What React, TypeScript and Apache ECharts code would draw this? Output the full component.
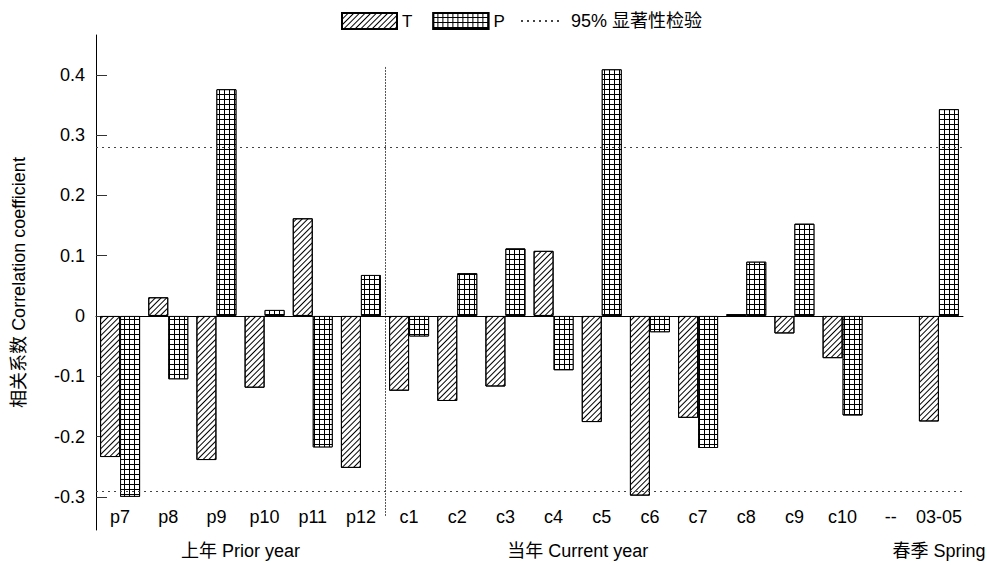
import React, { useEffect, useRef } from "react";
import * as echarts from "echarts";

// Months of the prior year (p), current year (c) and the spring season
const categories = [
  "p7", "p8", "p9", "p10", "p11", "p12",
  "c1", "c2", "c3", "c4", "c5", "c6", "c7", "c8", "c9", "c10",
  "--", "03-05",
];

// Correlation with temperature (T) and precipitation (P)
const tValues: (number | null)[] = [
  -0.234, 0.031, -0.239, -0.119, 0.162, -0.252,
  -0.124, -0.141, -0.117, 0.108, -0.176, -0.298, -0.169, 0.003, -0.029, -0.07,
  null, -0.175,
];
const pValues: (number | null)[] = [
  -0.3, -0.105, 0.376, 0.01, -0.218, 0.068,
  -0.034, 0.071, 0.112, -0.09, 0.409, -0.027, -0.219, 0.09, 0.153, -0.165,
  null, 0.343,
];

// 95% significance thresholds
const sigUpper = 0.283;
const sigLower = -0.29;

const yTicks = [-0.3, -0.2, -0.1, 0, 0.1, 0.2, 0.3, 0.4];
const yMin = -0.355;
const yMax = 0.466;

const groupLabels = ["上年 Prior year", "当年 Current year", "春季 Spring"];

const FONT = "'Liberation Sans', Arial, 'Noto Sans CJK SC', sans-serif";

export default function App() {
  const ref = useRef<HTMLDivElement>(null);

  useEffect(() => {
    if (!ref.current) return;
    const chart = echarts.init(ref.current, null, { renderer: "svg" });

    // diagonal hatching for T, square mesh for P
    const hatch = {
      symbol: "rect",
      symbolSize: 1,
      dashArrayX: [1, 0],
      dashArrayY: [1, 3],
      rotation: -Math.PI / 4,
      color: "#000",
    };
    const mesh = {
      symbol: "rect",
      symbolSize: 1,
      dashArrayX: [4, 1],
      dashArrayY: [4, 1],
      color: "#fff",
    };

    chart.setOption({
      animation: false,
      backgroundColor: "#fff",
      textStyle: { fontFamily: FONT, color: "#000" },
      legend: [
        {
          data: ["T", "P"],
          icon: "rect",
          left: 336,
          top: 7,
          itemWidth: 55,
          itemHeight: 16,
          itemGap: 20,
          textStyle: { fontFamily: FONT, fontSize: 17, color: "#000" },
          selectedMode: false,
        },
        {
          data: ["95% 显著性检验"],
          left: 515,
          top: 7,
          itemWidth: 38,
          itemHeight: 16,
          itemStyle: {
            color: "transparent",
            borderColor: "transparent",
            borderWidth: 0,
          },
          textStyle: {
            fontFamily: FONT,
            fontSize: 18,
            color: "#000",
            padding: [0, 0, 0, 7],
          },
          selectedMode: false,
        },
      ],
      grid: {
        left: 96,
        right: 26,
        top: 35,
        bottom: 37,
        containLabel: false,
        outerBoundsMode: "none",
      },
      xAxis: [
        {
          type: "category",
          data: categories,
          position: "top",
          axisLine: { onZero: true, lineStyle: { color: "#000", width: 1 } },
          axisTick: { inside: true, length: 4, lineStyle: { color: "#555" } },
          axisLabel: { show: false },
          splitLine: { show: false },
        },
        {
          type: "category",
          data: categories,
          position: "bottom",
          axisLine: { show: false },
          axisTick: { show: false },
          axisLabel: {
            margin: -22,
            fontSize: 18,
            color: "#000",
            fontFamily: FONT,
            interval: 0,
          },
        },
      ],
      yAxis: {
        type: "value",
        min: yMin,
        max: yMax,
        name: "相关系数 Correlation coefficient",
        nameLocation: "middle",
        nameRotate: 90,
        nameGap: 68,
        nameTextStyle: { fontSize: 18, color: "#000", fontFamily: FONT },
        axisLine: { show: true, lineStyle: { color: "#000", width: 1 } },
        axisTick: {
          show: true,
          inside: true,
          length: 11,
          customValues: yTicks,
          lineStyle: { color: "#333" },
        },
        axisLabel: {
          customValues: yTicks,
          margin: 11,
          fontSize: 18,
          color: "#000",
          fontFamily: FONT,
          formatter: (v: number) => String(Math.round(v * 10) / 10),
        },
        splitLine: { show: false },
      },
      series: [
        {
          name: "T",
          type: "bar",
          xAxisIndex: 0,
          data: tValues,
          barWidth: 20,
          barGap: "0%",
          clip: false,
          itemStyle: {
            color: "#fff",
            borderColor: "#000",
            borderWidth: 1,
            decal: hatch,
          },
        },
        {
          name: "P",
          type: "bar",
          xAxisIndex: 0,
          data: pValues,
          barWidth: 20,
          barGap: "0%",
          clip: false,
          itemStyle: {
            color: "#000",
            borderColor: "#000",
            borderWidth: 1,
            decal: mesh,
          },
        },
        {
          name: "95% 显著性检验",
          type: "line",
          xAxisIndex: 0,
          data: [],
          symbol: "none",
          itemStyle: { color: "#444" },
          lineStyle: { type: [2, 4], color: "#444", width: 1 },
          markLine: {
            silent: true,
            symbol: ["none", "none"],
            label: { show: false },
            lineStyle: { type: [2, 4], color: "#444", width: 1 },
            data: [{ yAxis: sigUpper }, { yAxis: sigLower }],
          },
        },
      ],
    });

    // Separator between prior and current year, and the group captions
    const px = (i: number) => chart.convertToPixel({ xAxisIndex: 0 }, i) as number;
    const py = (v: number) => chart.convertToPixel({ yAxisIndex: 0 }, v) as number;
    const sepX = Math.round((px(5) + px(6)) / 2) + 0.5;
    const captionX = [
      (px(2) + px(3)) / 2,
      (px(9) + px(10)) / 2,
      px(17),
    ];
    const captionY = py(yMin) + 21;

    chart.setOption({
      graphic: [
        {
          type: "line",
          silent: true,
          shape: { x1: sepX, y1: py(0.413), x2: sepX, y2: py(-0.333) },
          style: { stroke: "#555", lineWidth: 1, lineDash: [2, 1] },
        },
        ...groupLabels.map((t, i) => ({
          type: "text",
          silent: true,
          x: captionX[i],
          y: captionY,
          style: {
            text: t,
            fontSize: 18,
            fontFamily: FONT,
            fill: "#000",
            textAlign: "center",
            textVerticalAlign: "middle",
          },
        })),
      ],
    });

    return () => chart.dispose();
  }, []);

  return (
    <div
      ref={ref}
      style={{ position: "fixed", left: 0, top: 0, width: 989, height: 567 }}
    />
  );
}
